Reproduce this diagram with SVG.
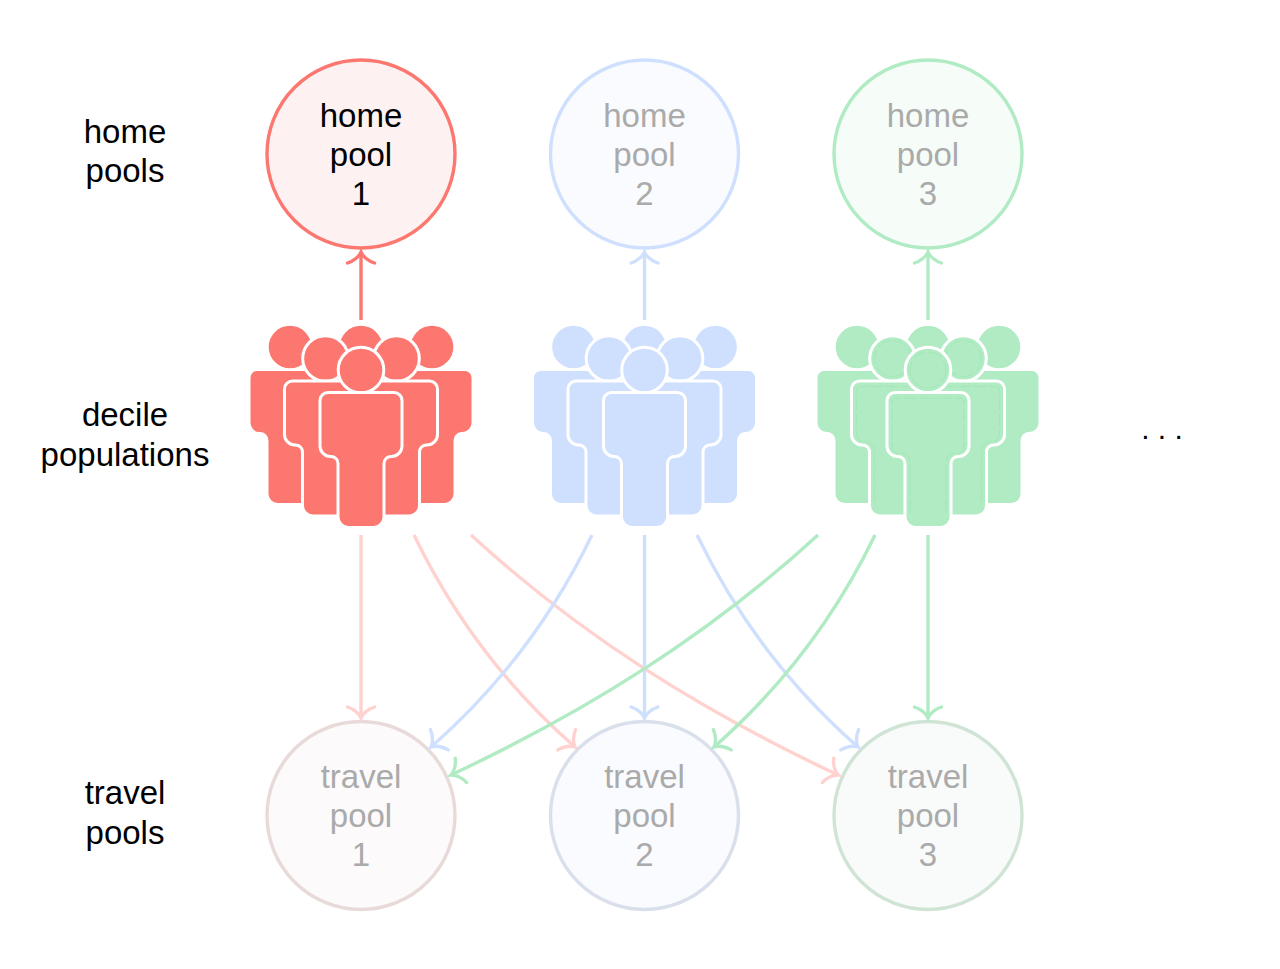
<svg xmlns="http://www.w3.org/2000/svg" xmlns:xlink="http://www.w3.org/1999/xlink" width="1280" height="969" viewBox="0 0 1280 969">
<style>
text{font-family:"Liberation Sans",Arial,sans-serif;font-size:33px;text-anchor:middle}
.lab{fill:#000}.dim{fill:#aaaaaa}
.pool{stroke-width:3.4}
.white{stroke:#fff;stroke-width:6;paint-order:stroke}
.dots{font-size:30px}
.inner{fill:none;stroke:#9fe4b5;stroke-width:.8;stroke-dasharray:14 3}
.ah{fill:none;stroke-width:3.4;stroke-linecap:round}
</style>
<defs>
<g id="fig">
<circle cx="0" cy="0" r="21.3"/>
<path d="M-33,24H33A6.500,6.500 0 0 1 39.500,30.500V76A9,9 0 0 1 30.500,85H30A8.500,8.500 0 0 0 21.500,93.500V147A9,9 0 0 1 12.500,156H-12.500A9,9 0 0 1 -21.500,147V93.500A8.500,8.500 0 0 0 -30,85H-30.500A9,9 0 0 1 -39.500,76V30.500A6.500,6.500 0 0 1 -33,24Z"/>
</g>
<g id="inner">
<circle cx="0" cy="0" r="18"/>
<path d="M-18,143V93C-18,86 -22,83 -30,83C-33,83 -36,80 -36,76V32C-36,29 -34,28 -32,28H32C34,28 36,29 36,32V76C36,80 33,83 30,83C22,83 18,86 18,93V143"/>
</g>
<g id="crowd">
<use href="#fig" x="-71" y="-23"/>
<use href="#fig" x="71" y="-23"/>
<use href="#fig" x="0" y="-23"/>
<use href="#fig" x="-35.500" y="-11.500" class="white"/>
<use href="#fig" x="35.500" y="-11.500" class="white"/>
<use href="#fig" x="0" y="0" class="white"/>
</g>
<marker id="ar" markerUnits="userSpaceOnUse" markerWidth="34" markerHeight="34" refX="28" refY="17" orient="auto" overflow="visible"><path class="ah" d="M17,3.500C19,10 24,15.500 28,17C24,18.500 19,24 17,30.500" stroke="#fc7770"/></marker>
<marker id="arl" markerUnits="userSpaceOnUse" markerWidth="34" markerHeight="34" refX="28" refY="17" orient="auto" overflow="visible"><path class="ah" d="M17,3.500C19,10 24,15.500 28,17C24,18.500 19,24 17,30.500" stroke="#ffd2cf"/></marker>
<marker id="ab" markerUnits="userSpaceOnUse" markerWidth="34" markerHeight="34" refX="28" refY="17" orient="auto" overflow="visible"><path class="ah" d="M17,3.500C19,10 24,15.500 28,17C24,18.500 19,24 17,30.500" stroke="#cfe0ff"/></marker>
<marker id="ag" markerUnits="userSpaceOnUse" markerWidth="34" markerHeight="34" refX="28" refY="17" orient="auto" overflow="visible"><path class="ah" d="M17,3.500C19,10 24,15.500 28,17C24,18.500 19,24 17,30.500" stroke="#b0ebc3"/></marker>
</defs>
<rect width="1280" height="969" fill="#fff"/>
<g id="row-labels">
<text class="lab" x="125" y="143">home</text><text class="lab" x="125" y="182">pools</text>
<text class="lab" x="125" y="426">decile</text><text class="lab" x="125" y="466">populations</text>
<text class="lab" x="125" y="804">travel</text><text class="lab" x="125" y="844">pools</text>
<text class="lab dots" x="1162" y="439">. . .</text>
</g>
<g id="home-pool-1"><circle class="pool" cx="361" cy="154" r="94" fill="#fef1f1" stroke="#fc7770"/><text class="lab" x="361" y="127">home</text><text class="lab" x="361" y="166">pool</text><text class="lab" x="361" y="205">1</text></g>
<g id="home-pool-2"><circle class="pool" cx="644.500" cy="154" r="94" fill="#fafbff" stroke="#cfe0ff"/><text class="dim" x="644.500" y="127">home</text><text class="dim" x="644.500" y="166">pool</text><text class="dim" x="644.500" y="205">2</text></g>
<g id="home-pool-3"><circle class="pool" cx="928" cy="154" r="94" fill="#f6fdf8" stroke="#b0ebc3"/><text class="dim" x="928" y="127">home</text><text class="dim" x="928" y="166">pool</text><text class="dim" x="928" y="205">3</text></g>
<g id="population-1" fill="#fc7770"><use href="#crowd" x="361" y="370"/></g>
<g id="population-2" fill="#cfe0ff"><use href="#crowd" x="644.500" y="370"/></g>
<g id="population-3" fill="#b0ebc3">
<use href="#fig" x="857" y="347"/><use href="#fig" x="999" y="347"/><use href="#fig" x="928" y="347"/>
<use href="#fig" x="892.500" y="358.500" class="white"/><use href="#inner" x="892.500" y="358.500" class="inner"/>
<use href="#fig" x="963.500" y="358.500" class="white"/><use href="#inner" x="963.500" y="358.500" class="inner"/>
<use href="#fig" x="928" y="370" class="white"/><use href="#inner" x="928" y="370" class="inner"/>
</g>
<g id="travel-pool-1"><circle class="pool" cx="361" cy="815.500" r="94" fill="#fcfafa" stroke="#e8dad9"/><text class="dim" x="361" y="788">travel</text><text class="dim" x="361" y="827">pool</text><text class="dim" x="361" y="866">1</text></g>
<g id="travel-pool-2"><circle class="pool" cx="644.500" cy="815.500" r="94" fill="#fafbfe" stroke="#dadfec"/><text class="dim" x="644.500" y="788">travel</text><text class="dim" x="644.500" y="827">pool</text><text class="dim" x="644.500" y="866">2</text></g>
<g id="travel-pool-3"><circle class="pool" cx="928" cy="815.500" r="94" fill="#f9fbfa" stroke="#d0e4d6"/><text class="dim" x="928" y="788">travel</text><text class="dim" x="928" y="827">pool</text><text class="dim" x="928" y="866">3</text></g>
<g id="connectors" fill="none" stroke-width="3.400">
<path d="M361,320V252" stroke="#fc7770" marker-end="url(#ar)"/>
<path d="M644.500,320V252" stroke="#cfe0ff" marker-end="url(#ab)"/>
<path d="M928,320V252" stroke="#b0ebc3" marker-end="url(#ag)"/>
<path d="M361,535V718" stroke="#ffd2cf" marker-end="url(#arl)"/>
<path d="M414,535C455,620 510,690 575,747" stroke="#ffd2cf" marker-end="url(#arl)"/>
<path d="M471,535C580,635 700,710 838,775" stroke="#ffd2cf" marker-end="url(#arl)"/>
<path d="M592,535C551,620 496,690 431,747" stroke="#cfe0ff" marker-end="url(#ab)"/>
<path d="M644.500,535V718" stroke="#cfe0ff" marker-end="url(#ab)"/>
<path d="M697,535C738,620 793,690 858,747" stroke="#cfe0ff" marker-end="url(#ab)"/>
<path d="M818,535C709,635 589,710 451,775" stroke="#b0ebc3" marker-end="url(#ag)"/>
<path d="M875,535C834,620 779,690 714,747" stroke="#b0ebc3" marker-end="url(#ag)"/>
<path d="M928,535V718" stroke="#b0ebc3" marker-end="url(#ag)"/>
</g>
</svg>
